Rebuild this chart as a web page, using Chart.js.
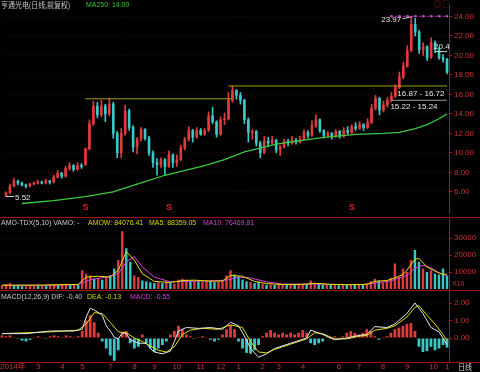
<!DOCTYPE html>
<html>
<head>
<meta charset="utf-8">
<script src="https://cdn.jsdelivr.net/npm/chart.js@4/dist/chart.umd.min.js"></script>
<style>
  html, body { margin: 0; padding: 0; background: #000; }
  body { width: 480px; height: 372px; position: relative; overflow: hidden;
         font-family: "Liberation Sans", "Noto Sans CJK SC", sans-serif; }
  .panel { position: absolute; left: 0; width: 480px; }
  .panel canvas { display: block; }
  .hdr { position: absolute; font-size: 8px; line-height: 10px; white-space: nowrap; z-index: 2;
         transform: scaleX(0.87); transform-origin: left top; }
  .sep { position: absolute; left: 0; width: 480px; height: 1px; background: #a01010; }
</style>
</head>
<body>
<div class="panel" style="top:0;height:217px"><canvas id="priceChart" width="480" height="217"></canvas></div>
<div class="sep" style="top:217px"></div>
<div class="panel" style="top:218px;height:72px"><canvas id="volChart" width="480" height="72"></canvas></div>
<div class="sep" style="top:290px"></div>
<div class="panel" style="top:291px;height:81px"><canvas id="macdChart" width="480" height="81"></canvas></div>
<div class="sep" style="top:362px"></div>

<span class="hdr" style="left:1px;top:0;color:#c8c8c8;font-family:'Noto Sans CJK SC'">亨通光电(日线,前复权)</span>
<span class="hdr" style="left:86px;top:0;color:#30c830">MA250: 14.00</span>
<span class="hdr" style="left:434px;top:0;color:#a02020">◎ ▢</span>

<span class="hdr" style="left:1px;top:218px;color:#c8c8c8">AMO-TDX(5,10) VAMO: -</span>
<span class="hdr" style="left:88px;top:218px;color:#d8d800">AMOW: 84076.41</span>
<span class="hdr" style="left:149px;top:218px;color:#d8d800">MA5: 88359.05</span>
<span class="hdr" style="left:203px;top:218px;color:#d040d0">MA10: 76469.81</span>
<span class="hdr" style="left:452px;top:279px;color:#c03030">X10</span>

<span class="hdr" style="left:1px;top:292px;color:#c8c8c8">MACD(12,26,9) DIF: -0.40</span>
<span class="hdr" style="left:87px;top:292px;color:#d8d800">DEA: -0.13</span>
<span class="hdr" style="left:130px;top:292px;color:#d040d0">MACD: -0.55</span>
<span class="hdr" style="left:458px;top:362px;color:#d0d0d0;font-family:'Noto Sans CJK SC'">日线</span>

<script>
// daily candles, roughly one entry per four trading days
const opens = [5.6, 5.9, 6.6, 7.1, 6.9, 6.7, 6.6, 6.8, 6.9, 7.0,
  6.9, 7.1, 7.0, 7.5, 7.9, 7.6, 8.4, 8.7, 8.3, 8.7,
  8.8, 10.4, 13.0, 14.8, 13.9, 14.8, 14.0, 15.0, 12.0, 10.0,
  12.0, 14.3, 12.6, 10.6, 11.4, 12.4, 11.5, 10.0, 9.0, 8.8,
  9.3, 8.6, 9.8, 9.0, 9.3, 10.5, 11.4, 12.3, 11.6, 12.3,
  11.9, 12.3, 13.8, 13.2, 11.9, 13.4, 13.5, 15.4, 16.4, 15.9,
  15.4, 13.4, 12.1, 12.2, 11.0, 10.0, 11.2, 11.0, 11.3, 10.3,
  10.6, 11.2, 11.0, 11.3, 11.1, 11.4, 12.1, 11.8, 12.8, 13.4,
  12.3, 11.8, 12.0, 11.7, 12.2, 11.7, 12.3, 12.1, 12.7, 12.5,
  12.9, 12.6, 13.1, 14.6, 15.6, 14.4, 14.9, 15.4, 15.8, 16.7,
  17.8, 18.9, 20.5, 23.2, 22.4, 20.6, 20.9, 19.8, 21.3, 20.6,
  19.8, 19.6];
const closes = [5.9, 6.6, 7.1, 6.9, 6.7, 6.6, 6.8, 6.9, 7.0, 6.9,
  7.1, 7.0, 7.5, 7.9, 7.6, 8.4, 8.7, 8.3, 8.7, 8.6,
  10.4, 13.0, 14.8, 13.9, 14.8, 14.0, 15.0, 12.0, 10.0, 12.0,
  14.3, 12.6, 10.6, 11.4, 12.4, 11.5, 10.0, 9.0, 8.8, 9.3,
  8.6, 9.8, 9.0, 9.3, 10.5, 11.4, 12.3, 11.6, 12.3, 11.9,
  12.3, 13.8, 13.2, 11.9, 13.4, 13.5, 15.4, 16.4, 15.9, 15.4,
  13.4, 12.1, 12.2, 11.0, 10.0, 11.2, 11.0, 11.3, 10.3, 10.6,
  11.2, 11.0, 11.3, 11.1, 11.4, 12.1, 11.8, 12.8, 13.4, 12.3,
  11.8, 12.0, 11.7, 12.2, 11.7, 12.3, 12.1, 12.7, 12.5, 12.9,
  12.6, 13.1, 14.6, 15.6, 14.4, 14.9, 15.4, 15.8, 16.7, 17.8,
  18.9, 20.5, 23.2, 22.4, 20.6, 20.9, 19.8, 21.3, 20.6, 19.8,
  19.6, 18.3];
const highs = [6.0, 6.8, 7.4, 7.2, 7.0, 6.8, 6.9, 7.0, 7.2, 7.1,
  7.3, 7.2, 7.7, 8.2, 8.0, 8.6, 9.0, 8.8, 9.0, 8.9,
  10.5, 13.4, 15.3, 15.2, 15.4, 15.0, 15.6, 15.2, 12.2, 12.5,
  14.9, 14.5, 12.8, 11.6, 12.6, 12.5, 11.7, 10.2, 9.4, 9.5,
  9.4, 10.2, 9.9, 9.8, 10.8, 11.6, 12.7, 12.4, 12.6, 12.5,
  12.5, 14.2, 14.7, 13.3, 13.7, 14.1, 16.2, 16.87, 16.5, 16.2,
  15.5, 13.6, 12.4, 12.3, 11.2, 11.7, 11.6, 11.7, 11.4, 10.8,
  11.4, 11.4, 11.7, 11.5, 11.7, 12.4, 12.3, 13.3, 13.9, 13.5,
  12.4, 12.2, 12.1, 12.4, 12.3, 12.6, 12.7, 12.9, 13.1, 13.2,
  13.0, 13.5, 15.0, 15.9, 15.7, 15.3, 15.7, 16.2, 17.0, 18.3,
  19.3, 21.0, 23.97, 23.8, 22.6, 21.3, 21.0, 21.8, 21.5, 20.8,
  20.1, 19.7];
const lows = [5.52, 5.8, 6.5, 6.7, 6.6, 6.4, 6.5, 6.7, 6.8, 6.8,
  6.8, 6.8, 6.9, 7.4, 7.4, 7.5, 8.2, 8.1, 8.2, 8.4,
  8.7, 10.3, 12.8, 13.6, 13.7, 13.2, 13.8, 11.5, 9.5, 9.5,
  11.8, 12.3, 10.1, 9.9, 11.2, 11.3, 9.7, 8.5, 7.7, 8.5,
  7.7, 8.5, 8.5, 8.6, 9.2, 10.3, 11.2, 11.1, 11.5, 11.8,
  11.8, 12.2, 13.0, 11.6, 11.8, 12.9, 13.4, 15.2, 15.5, 15.0,
  13.0, 11.1, 11.4, 10.7, 9.5, 9.9, 10.6, 10.9, 10.0, 9.7,
  10.5, 10.7, 10.9, 10.9, 11.0, 11.3, 11.5, 11.7, 12.6, 12.1,
  11.5, 11.6, 11.4, 11.6, 11.5, 11.6, 11.9, 12.0, 12.3, 12.4,
  12.3, 12.5, 13.0, 14.4, 13.9, 14.2, 14.7, 15.22, 15.7, 16.6,
  17.6, 18.8, 20.4, 22.0, 20.2, 20.0, 19.5, 19.7, 20.3, 19.6,
  19.3, 18.1];

// amount (x10)
const volumes = [2000, 2800, 3500, 2200, 1800, 1600, 1700, 1900, 2000, 1800,
  2100, 1900, 2400, 2800, 2300, 3000, 3200, 2600, 2900, 2500,
  11000, 9000, 8000, 6000, 6500, 5500, 7000, 8000, 12000, 17000,
  34000, 24000, 16000, 8000, 7000, 5000, 4500, 4000, 3500, 4000,
  3500, 4500, 3500, 3200, 5500, 6000, 5500, 4800, 5000, 4500,
  4200, 5000, 4800, 4000, 4500, 5000, 8000, 11000, 8500, 7500,
  5500, 4500, 4000, 3500, 4200, 3000, 2500, 2600, 2400, 2800,
  2500, 2300, 2600, 2400, 2700, 3000, 2800, 5000, 3500, 3000,
  2600, 2400, 2500, 2300, 2200, 2500, 2400, 2800, 2600, 2700,
  2500, 3000, 4500, 6000, 5000, 4000, 4500, 6500, 15000, 7000,
  12000, 10000, 17000, 23000, 16000, 12000, 10000, 11000, 9000, 8500,
  12000, 8000];

const macdHist = [0.15, 0.1, 0.15, 0.05, -0.05, -0.15, -0.2, -0.1, 0.05, 0.1,
  0.05, -0.05, 0.1, 0.15, 0.1, 0.05, 0.15, 0.1, 0.05, 0.1,
  0.4, 1.0, 1.3, 0.9, 0.3, -0.2, -0.6, -1.0, -1.3, -0.7,
  0.3, 0.4, -0.3, -0.6, -0.5, 0.2, -0.3, -0.6, -0.8, -0.6,
  -0.4, -0.2, 0.2, 0.4, 0.7, 0.5, 0.2, 0.1, -0.05, 0.05,
  0.1, 0.05, -0.1, -0.2, -0.1, 0.2, 0.5, 0.75, 0.5, -0.2,
  -0.6, -0.85, -0.9, -0.7, -0.4, 0.1, 0.3, 0.45, 0.3, 0.2,
  0.3, 0.2, 0.3, 0.2, 0.3, 0.45, 0.3, -0.3, -0.4, -0.3,
  -0.2, 0.05, -0.05, 0.1, 0.05, 0.1, 0.3, 0.4, 0.3, 0.2,
  0.3, 0.5, 0.4, 0.1, -0.1, 0.05, 0.1, 0.3, 0.5, 0.6,
  0.7, 0.8, 0.85, 0.4, -0.5, -0.8, -0.75, -0.5, -0.7, -0.6,
  -0.4, -0.55];

// [day index, value]
const ma250Pts = [[4, 4.8], [12, 5.1], [20, 5.5], [27, 6.0], [33, 6.8], [40, 7.7], [50, 8.7],
  [55, 9.3], [60, 10.1], [68, 10.9], [75, 11.3], [80, 11.6], [88, 11.9], [95, 12.0],
  [99, 12.1], [103, 12.5], [106, 12.9], [109, 13.5], [111, 14.0]];
const volMa5Pts = [[0, 2200], [10, 2300], [19, 2700], [21, 7000], [24, 7500], [27, 7000], [29, 11000],
  [31, 22000], [33, 17000], [35, 9000], [38, 4500], [42, 3800], [45, 5000], [48, 5200], [52, 4600],
  [55, 4700], [57, 8000], [60, 7500], [63, 4500], [66, 3200], [70, 2600], [75, 2700], [78, 3400],
  [82, 2700], [87, 2500], [91, 2800], [93, 4500], [96, 5000], [98, 6500], [100, 8500], [101, 11000],
  [103, 17500], [104, 18000], [106, 13000], [108, 10500], [110, 8500], [111, 8800]];
const volMa10Pts = [[0, 2200], [12, 2200], [19, 2600], [22, 5500], [26, 7000], [29, 9000], [31, 16000],
  [33, 19000], [35, 13000], [38, 7000], [42, 4200], [46, 4500], [52, 4800], [56, 5200], [59, 7000],
  [62, 6500], [66, 4200], [70, 2900], [78, 2900], [84, 2700], [90, 2600], [93, 3500], [97, 4800],
  [99, 6500], [101, 8000], [103, 12000], [105, 14000], [107, 12500], [109, 9500], [111, 7650]];
const difPts = [[0, 0.25], [6, 0.25], [12, 0.4], [18, 0.4], [20, 0.5], [21, 1.2], [22, 1.7], [23, 1.6],
  [25, 1.3], [26, 0.7], [27, 0.4], [28, 0.05], [29, -0.05], [30, 0.3], [31, 0.25], [32, -0.1],
  [34, -0.3], [36, -0.3], [37, -0.6], [38, -0.8], [40, -0.9], [42, -0.75], [43, -0.2], [44, 0.4],
  [46, 0.6], [49, 0.55], [52, 0.6], [55, 0.5], [57, 0.9], [59, 0.7], [61, -0.1], [62, -0.6],
  [64, -1.1], [66, -0.9], [68, -0.6], [72, -0.3], [76, 0.0], [77, 0.45], [80, 0.2], [83, -0.1],
  [86, 0.0], [89, 0.15], [91, 0.2], [93, 0.65], [96, 0.6], [98, 0.8], [101, 1.4], [103, 2.0],
  [105, 1.4], [107, 0.6], [109, 0.35], [110, 0.0], [111, -0.4]];
const deaPts = [[0, 0.25], [12, 0.35], [19, 0.45], [21, 0.8], [23, 1.45], [25, 1.4], [27, 0.9],
  [29, 0.35], [31, 0.3], [33, 0.0], [35, -0.2], [37, -0.45], [39, -0.7], [41, -0.8], [43, -0.5],
  [45, 0.2], [47, 0.45], [50, 0.55], [54, 0.5], [57, 0.75], [60, 0.6], [62, -0.2], [64, -0.8],
  [66, -0.85], [68, -0.65], [72, -0.35], [76, -0.05], [78, 0.3], [80, 0.25], [83, -0.05],
  [86, -0.05], [89, 0.1], [91, 0.15], [93, 0.45], [96, 0.55], [98, 0.7], [101, 1.2], [103, 1.75],
  [104, 1.85], [106, 1.3], [108, 0.8], [110, 0.2], [111, -0.13]];

// drawn support / resistance lines: [from index, to index, price]
const levelLines = [[20, 57, 15.55], [56, 111, 16.87]];
const zoneLine = [97, 111, 15.4];
const lastMark = [108, 111, 20.4];
const topMarkIdx = [97, 99, 101, 103, 105, 107, 109, 111];
const topMarkPrice = 24.03;
const sellMarks = [20, 41, 87];

const monthLabels = [[0, '2014年'], [9, '3'], [15, '4'], [20, '5'], [27, '7'], [33, '8'], [38, '9'],
  [43, '10'], [49, '11'], [54, '12'], [59, '1'], [65, '2'], [69, '3'], [75, '4'], [84, '6'],
  [89, '7'], [95, '8'], [101, '9'], [107, '10'], [111, '1']];

const priceTicks = [6, 8, 10, 12, 14, 16, 18, 20, 22, 24];
const volTicks = [10000, 20000, 30000];
const macdTicks = [0, 1, 2];

const days = opens.map((_, i) => i);
const UP = '#e03a3a', DOWN = '#38c8c8', AXIS = '#b01010', LABEL = '#c83232';
const candleColors = closes.map((c, i) => c >= opens[i] ? UP : DOWN);
const pts = list => list.map(([i, v]) => ({ x: i, y: v }));

Chart.defaults.font.family = '"Liberation Sans", sans-serif';

function baseOptions(yMin, yMax, ticks, fmt, padBottom) {
  return {
    responsive: false,
    animation: false,
    devicePixelRatio: 1,
    layout: { padding: { left: 0, right: 0, top: 0, bottom: padBottom || 0 } },
    plugins: { legend: { display: false }, tooltip: { enabled: false } },
    scales: {
      x: { display: false, offset: true },
      y: {
        position: 'right',
        min: yMin,
        max: yMax,
        afterBuildTicks: s => { s.ticks = ticks.map(v => ({ value: v })); },
        afterFit: s => { s.width = 31; s.paddingTop = 0; s.paddingBottom = 0; },
        ticks: { color: LABEL, font: { size: 8 }, padding: 2, callback: fmt },
        grid: { color: '#3a0606', tickColor: AXIS, tickLength: 3 },
        border: { color: AXIS, dash: [1, 3] }
      }
    }
  };
}

const priceNotes = {
  id: 'priceNotes',
  afterDatasetsDraw(chart) {
    const { ctx, chartArea, scales: { x, y } } = chart;
    ctx.save();
    ctx.font = '8px "Liberation Sans", sans-serif';
    ctx.textBaseline = 'middle';
    ctx.strokeStyle = '#d0d0d0';
    ctx.fillStyle = '#e6e6e6';
    ctx.lineWidth = 1;

    const hiIdx = highs.indexOf(Math.max(...highs));
    const hx = x.getPixelForValue(hiIdx), hy = y.getPixelForValue(highs[hiIdx]);
    ctx.beginPath(); ctx.moveTo(hx, hy); ctx.lineTo(hx - 9, hy + 2); ctx.stroke();
    ctx.textAlign = 'right';
    ctx.fillText(highs[hiIdx].toFixed(2), hx - 10, hy + 3);

    const loIdx = lows.indexOf(Math.min(...lows));
    const lx = x.getPixelForValue(loIdx), ly = y.getPixelForValue(lows[loIdx]);
    ctx.beginPath(); ctx.moveTo(lx, ly); ctx.lineTo(lx + 8, ly); ctx.stroke();
    ctx.textAlign = 'left';
    ctx.fillText(lows[loIdx].toFixed(2), lx + 9, ly + 1);

    ctx.fillText('16.87 - 16.72', x.getPixelForValue(98) + 2, y.getPixelForValue(levelLines[1][2]) + 8);
    ctx.fillText('15.22 - 15.24', x.getPixelForValue(97) - 1, y.getPixelForValue(zoneLine[2]) + 7);
    ctx.fillText('20.4', x.getPixelForValue(lastMark[0]) - 1, y.getPixelForValue(lastMark[2]) - 5);

    ctx.fillStyle = '#e02020';
    ctx.textAlign = 'center';
    ctx.font = 'bold 9px "Liberation Sans", sans-serif';
    sellMarks.forEach(i => ctx.fillText('S', x.getPixelForValue(i), chartArea.bottom - 5));
    ctx.restore();
  }
};

const monthAxis = {
  id: 'monthAxis',
  afterDraw(chart) {
    const { ctx, chartArea, scales: { x } } = chart;
    ctx.save();
    ctx.font = '8px "Liberation Sans", "Noto Sans CJK SC", sans-serif';
    ctx.fillStyle = LABEL;
    ctx.textAlign = 'left';
    ctx.textBaseline = 'middle';
    monthLabels.forEach(([i, t]) => ctx.fillText(t, Math.max(0, x.getPixelForValue(i) - 2), chartArea.bottom + 5));
    ctx.restore();
  }
};

function hLine(from, to, price, color, width) {
  return { type: 'line', data: pts([[from, price], [to, price]]), borderColor: color,
    borderWidth: width || 1, pointRadius: 0, order: 0 };
}

new Chart(document.getElementById('priceChart'), {
  type: 'bar',
  data: {
    labels: days,
    datasets: [
      { type: 'line', data: pts(ma250Pts), borderColor: '#3cc83c', borderWidth: 1.3, pointRadius: 0, order: 0 },
      hLine(levelLines[0][0], levelLines[0][1], levelLines[0][2], '#a0a020'),
      hLine(levelLines[1][0], levelLines[1][1], levelLines[1][2], '#a0a020'),
      hLine(zoneLine[0], zoneLine[1], zoneLine[2], '#9a9a9a'),
      hLine(lastMark[0], lastMark[1], lastMark[2], '#d0d0d0'),
      { type: 'line', data: topMarkIdx.map(i => ({ x: i, y: topMarkPrice })), borderColor: '#e040e0',
        borderWidth: 1, borderDash: [2, 2], pointStyle: 'rect', pointRadius: 1.5,
        pointBackgroundColor: '#e040e0', pointBorderWidth: 0, order: 0 },
      { data: opens.map((o, i) => [o, closes[i]]), backgroundColor: candleColors,
        barThickness: 2, minBarLength: 1, grouped: false, order: 1 },
      { data: lows.map((l, i) => [l, highs[i]]), backgroundColor: candleColors,
        barThickness: 1, grouped: false, order: 2 }
    ]
  },
  options: baseOptions(3.824, 25.286, priceTicks, v => v.toFixed(2)),
  plugins: [priceNotes]
});

new Chart(document.getElementById('volChart'), {
  type: 'bar',
  data: {
    labels: days,
    datasets: [
      { type: 'line', data: pts(volMa5Pts), borderColor: '#e0e000', borderWidth: 1, pointRadius: 0, order: 0 },
      { type: 'line', data: pts(volMa10Pts), borderColor: '#e040e0', borderWidth: 1, pointRadius: 0, order: 0 },
      { data: volumes, backgroundColor: candleColors, barPercentage: 0.6, categoryPercentage: 1, order: 1 }
    ]
  },
  options: baseOptions(-588, 41765, volTicks, v => String(v))
});

new Chart(document.getElementById('macdChart'), {
  type: 'bar',
  data: {
    labels: days,
    datasets: [
      { type: 'line', data: pts(difPts), borderColor: '#e8e8e8', borderWidth: 1, pointRadius: 0, order: 0 },
      { type: 'line', data: pts(deaPts), borderColor: '#e0e000', borderWidth: 1, pointRadius: 0, order: 0 },
      { data: macdHist, backgroundColor: macdHist.map(v => v >= 0 ? UP : DOWN),
        barPercentage: 0.7, categoryPercentage: 1, order: 1 }
    ]
  },
  options: baseOptions(-1.371, 2.686, macdTicks, v => v.toFixed(2), 10),
  plugins: [monthAxis]
});
</script>
</body>
</html>
